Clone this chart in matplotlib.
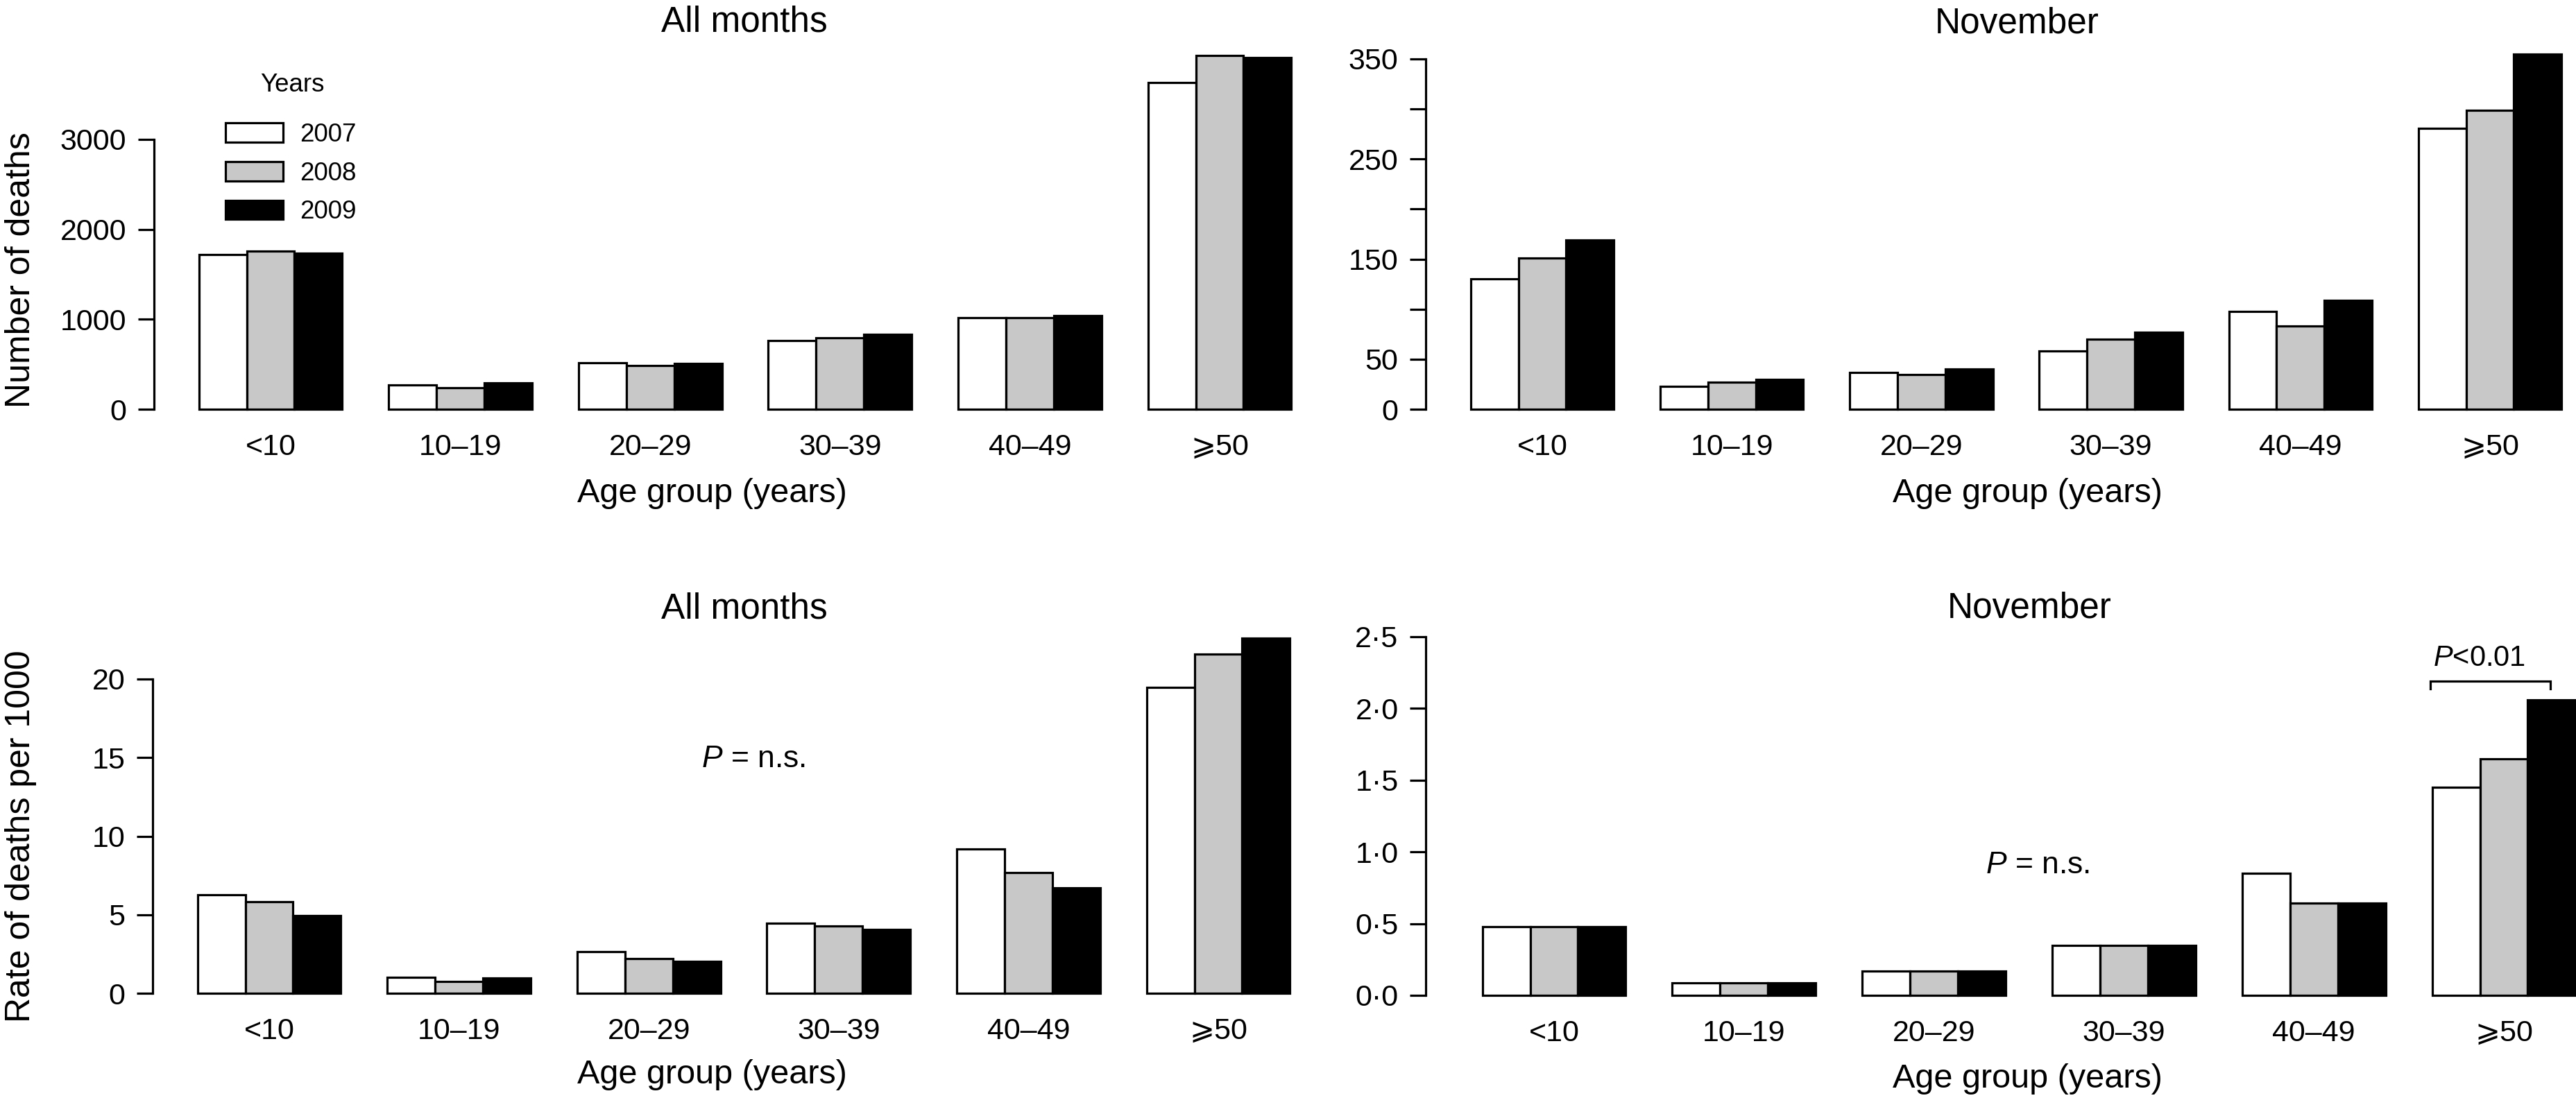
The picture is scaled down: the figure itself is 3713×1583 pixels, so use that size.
import matplotlib as mpl
mpl.use('Agg')
import matplotlib.pyplot as plt
import numpy as np

plt.rcParams['font.family'] = ['Liberation Sans', 'DejaVu Sans']
plt.rcParams['mathtext.fontset'] = 'custom'
plt.rcParams['mathtext.rm'] = 'Liberation Sans'
plt.rcParams['mathtext.it'] = 'Liberation Sans:italic'

# data
ages = ['<10', '10–19', '20–29', '30–39', '40–49', '⩾50']
years = ['2007', '2008', '2009']

deaths_all_2007 = [1721, 271, 513, 761, 1016, 3630]
deaths_all_2008 = [1762, 242, 487, 795, 1016, 3930]
deaths_all_2009 = [1732, 290, 506, 832, 1038, 3912]

deaths_nov_2007 = [130, 23, 37, 58, 98, 281]
deaths_nov_2008 = [151, 27, 35, 70, 83, 299]
deaths_nov_2009 = [169, 30, 40, 77, 109, 355]

rate_all_2007 = [6.27, 1.01, 2.66, 4.45, 9.2, 19.45]
rate_all_2008 = [5.84, 0.77, 2.19, 4.30, 7.7, 21.6]
rate_all_2009 = [4.96, 0.97, 2.02, 4.05, 6.7, 22.6]

rate_nov_2007 = [0.48, 0.087, 0.167, 0.348, 0.85, 1.45]
rate_nov_2008 = [0.48, 0.087, 0.167, 0.348, 0.645, 1.65]
rate_nov_2009 = [0.48, 0.087, 0.167, 0.348, 0.645, 2.06]

W, H = 3713, 1583
fig = plt.figure(figsize=(W / 100, H / 100), dpi=100)

colors = ['white', '#c8c8c8', 'black']
w = 0.252
lw = 2.3


def px(x, y):
    return x / W, 1 - y / H


def make_axes(cx0, sx, y0, sy, xlim, ylim):
    left = cx0 + xlim[0] * sx
    right = cx0 + xlim[1] * sx
    top = y0 - ylim[1] * sy
    ax = fig.add_axes([left / W, 1 - y0 / H, (right - left) / W, (y0 - top) / H])
    ax.set_xlim(xlim)
    ax.set_ylim(ylim)
    return ax


def draw_panel(ax, series, yticks, yticklabels, ybound):
    x = np.arange(len(ages))
    for k, vals in enumerate(series):
        ax.bar(x + (k - 1) * w, vals, width=w, color=colors[k], edgecolor='black',
               linewidth=lw, label=years[k], clip_on=False)
    for s in ['top', 'right', 'bottom']:
        ax.spines[s].set_visible(False)
    ax.spines['left'].set_linewidth(lw)
    ax.spines['left'].set_bounds(*ybound)
    ax.set_yticks(yticks)
    ax.set_yticklabels(yticklabels)
    ax.set_xticks(x)
    ax.set_xticklabels(ages)
    ax.tick_params(axis='y', length=16.5, width=lw, pad=12, labelsize=31)
    ax.tick_params(axis='x', length=0, pad=25, labelsize=31)


ax1 = make_axes(390, 273.6, 590, 389 / 3000, (-0.615, 5.42), (0, 4000))
draw_panel(ax1, [deaths_all_2007, deaths_all_2008, deaths_all_2009],
           [0, 1000, 2000, 3000], ['0', '1000', '2000', '3000'], (0, 3000))

ax2 = make_axes(2223, 273.2, 590, 505 / 350, (-0.615, 5.42), (0, 360))
draw_panel(ax2, [deaths_nov_2007, deaths_nov_2008, deaths_nov_2009],
           [0, 50, 100, 150, 200, 250, 300, 350],
           ['0', '50', '', '150', '', '250', '', '350'], (0, 350))

ax3 = make_axes(388, 273.6, 1432, 453 / 20, (-0.615, 5.42), (0, 23.5))
draw_panel(ax3, [rate_all_2007, rate_all_2008, rate_all_2009],
           [0, 5, 10, 15, 20], ['0', '5', '10', '15', '20'], (0, 20))

ax4 = make_axes(2240, 273.8, 1435, 206.9, (-0.675, 5.37), (0, 2.6))
draw_panel(ax4, [rate_nov_2007, rate_nov_2008, rate_nov_2009],
           [0, 0.5, 1.0, 1.5, 2.0, 2.5],
           ['0·0', '0·5', '1·0', '1·5', '2·0', '2·5'], (0, 2.5))

# titles, axis labels
for (x, y), t in zip([(1073, 32), (2907, 34), (1073, 878), (2925, 877)],
                     ['All months', 'November', 'All months', 'November']):
    fig.text(*px(x, y), t, ha='center', va='center', fontsize=37)

for (x, y) in [(1026, 712), (2922, 712), (1026, 1550), (2922, 1555)]:
    fig.text(*px(x, y), 'Age group (years)', ha='center', va='center', fontsize=35)

fig.text(*px(30, 389), 'Number of deaths', rotation=90, ha='center', va='center', fontsize=36)
fig.text(*px(30, 1206), 'Rate of deaths per 1000', rotation=90, ha='center', va='center', fontsize=36)

# legend
fig.text(*px(421, 123), 'Years', ha='center', va='center', fontsize=26.5)
fig.legend(*ax1.get_legend_handles_labels(), loc='upper left',
           bbox_to_anchor=px(325, 177), frameon=False, fontsize=26.5,
           handlelength=2.25, handleheight=0.78, handletextpad=0.65,
           labelspacing=0.56, borderpad=0, borderaxespad=0)

# significance annotations
ax3.text(2.55, 14.9, '$P$ = n.s.', ha='center', va='center', fontsize=32)
ax4.text(2.546, 0.904, '$P$ = n.s.', ha='center', va='center', fontsize=32)
ax4.plot([4.613, 4.613, 5.245, 5.245], [2.136, 2.19, 2.19, 2.136], color='black',
         lw=lw, clip_on=False, solid_joinstyle='miter')
ax4.text(4.627, 2.296, '$P$<0.01', ha='left', va='baseline', fontsize=30)

fig.savefig('out.png', dpi=100)
